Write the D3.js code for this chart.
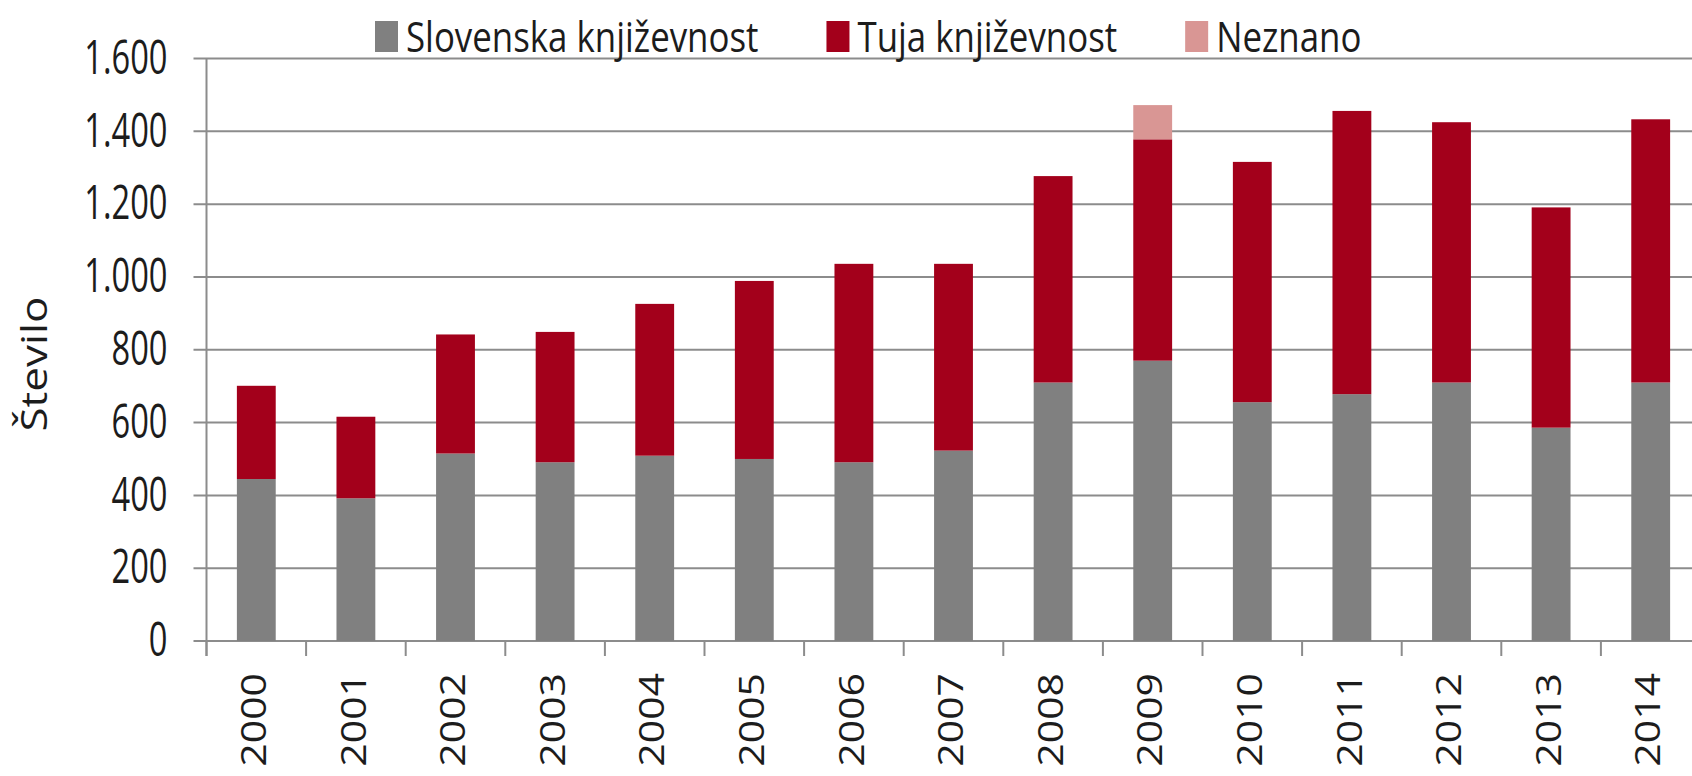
<!DOCTYPE html>
<html>
<head>
<meta charset="utf-8">
<script src="https://cdn.jsdelivr.net/npm/d3@7"></script>
<style>
  html, body { margin: 0; padding: 0; background: #fff; }
  svg { display: block; }
  text { font-family: "Open Sans", "Noto Sans", sans-serif; fill: #1c1c1c; }
</style>
</head>
<body>
<svg id="chart" width="1692" height="776"></svg>
<script>
// Izdane knjige po letih: slovenska in tuja književnost
const years = ["2000","2001","2002","2003","2004","2005","2006","2007","2008","2009","2010","2011","2012","2013","2014"];
const slovenska = [445, 392, 515, 491, 509, 500, 491, 523, 710, 770, 656, 678, 710, 586, 710];
const tuja      = [256, 224, 327, 358, 417, 489, 545, 513, 567, 608, 660, 778, 715, 605, 723];
const neznano   = [0, 0, 0, 0, 0, 0, 0, 0, 0, 94, 0, 0, 0, 0, 0];
const yTicks = [0, 200, 400, 600, 800, 1000, 1200, 1400, 1600];

const seriesNames = ["Slovenska književnost", "Tuja književnost", "Neznano"];
const seriesKeys = ["slo", "tuja", "nez"];
const seriesColors = ["#808080", "#a3001b", "#d99694"];

const W = 1692, H = 776;
const plotLeft = 206.5, step = 99.6;
const plotTop = 58.5, plotBottom = 641;
const sx = 0.83;      // horizontal squeeze of the lettering
const sxTick = 0.68;  // narrower figures on the value axis

const svg = d3.select("#chart");

const table = years.map((yr, i) => ({ year: yr, slo: slovenska[i], tuja: tuja[i], nez: neznano[i] }));
const stacked = d3.stack().keys(seriesKeys)(table);

const x = d3.scaleBand()
  .domain(years)
  .range([plotLeft, plotLeft + step * years.length])
  .paddingInner(0.61)
  .paddingOuter(0.305);

const y = d3.scaleLinear().domain([0, 1600]).range([plotBottom, plotTop]);

const loc = d3.formatLocale({ decimal: ",", thousands: ".", grouping: [3], currency: ["", " €"] });
const fmt = loc.format(",d");

// horizontal gridlines (with short outer tick left of the axis)
svg.append("g")
  .selectAll("line")
  .data(yTicks)
  .join("line")
  .attr("x1", plotLeft - 13)
  .attr("x2", W)
  .attr("y1", d => y(d))
  .attr("y2", d => y(d))
  .attr("stroke", "#8c8c8c")
  .attr("stroke-width", 2);

// value axis labels
svg.append("g")
  .selectAll("text")
  .data(yTicks)
  .join("text")
  .attr("transform", d => `translate(${plotLeft - 39},${y(d) - 2}) scale(${sxTick},1)`)
  .attr("text-anchor", "end")
  .attr("dy", "0.36em")
  .attr("font-size", 48)
  .text(d => fmt(d));

// stacked bars
const barGroups = svg.append("g")
  .selectAll("g")
  .data(stacked)
  .join("g")
  .attr("fill", (d, i) => seriesColors[i]);

barGroups.selectAll("rect")
  .data(d => d.filter(s => s[1] - s[0] > 0))
  .join("rect")
  .attr("x", d => x(d.data.year))
  .attr("width", x.bandwidth())
  .attr("y", d => y(d[1]))
  .attr("height", d => y(d[0]) - y(d[1]));

// value axis line
svg.append("line")
  .attr("x1", plotLeft).attr("x2", plotLeft)
  .attr("y1", plotTop).attr("y2", plotBottom + 15)
  .attr("stroke", "#8c8c8c").attr("stroke-width", 2);

// category boundary ticks below the baseline
const bounds = years.map(yr => x(yr) - x.step() * x.paddingInner() / 2);
svg.append("g")
  .selectAll("line")
  .data(bounds)
  .join("line")
  .attr("x1", d => d).attr("x2", d => d)
  .attr("y1", plotBottom).attr("y2", plotBottom + 15)
  .attr("stroke", "#8c8c8c").attr("stroke-width", 2);

// category labels, rotated
svg.append("g")
  .selectAll("text")
  .data(years)
  .join("text")
  .attr("transform", d => `translate(${x(d) + x.bandwidth() / 2 - 2.5},${plotBottom + 32}) scale(${sx},1) rotate(-90)`)
  .attr("text-anchor", "end")
  .attr("dy", "0.36em")
  .attr("font-size", 41)
  .text(d => d);

// axis title
svg.append("text")
  .attr("transform", `translate(46.5,364) scale(${sx},1) rotate(-90)`)
  .attr("text-anchor", "middle")
  .attr("font-size", 44)
  .text("Število");

// legend
const legend = svg.append("g");
let lx = 375;
seriesNames.forEach((name, i) => {
  legend.append("rect")
    .attr("x", lx).attr("y", 21)
    .attr("width", 23).attr("height", 31)
    .attr("fill", seriesColors[i]);
  const t = legend.append("text")
    .attr("transform", `translate(${lx + 31},52) scale(${sx},1)`)
    .attr("font-size", 42)
    .text(name);
  const w = t.node().getComputedTextLength() * sx;
  lx = lx + 31 + w + 68;
});
</script>
</body>
</html>
